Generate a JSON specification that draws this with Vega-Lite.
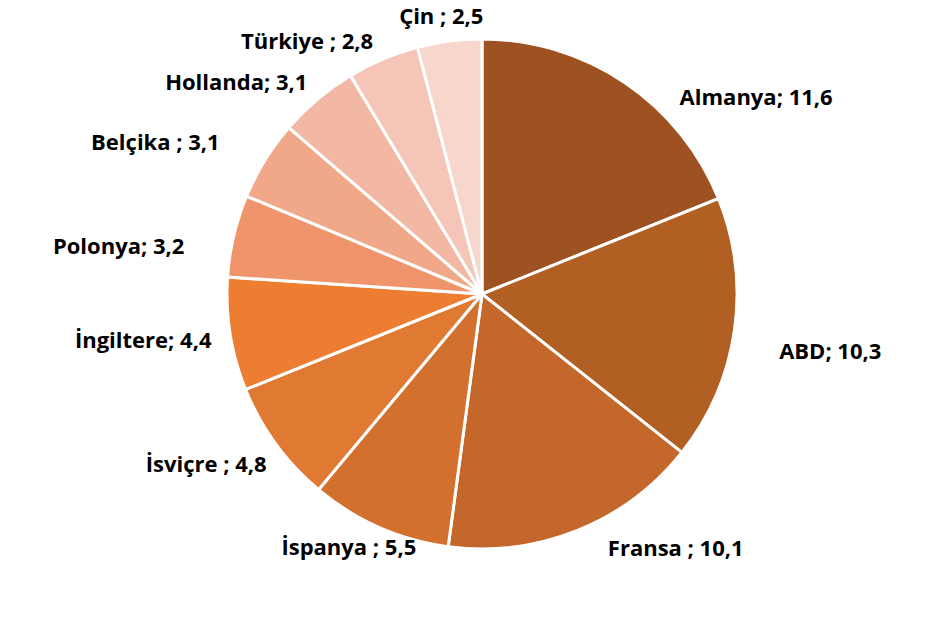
{
  "$schema": "https://vega.github.io/schema/vega-lite/v6.json",
  "width": 926,
  "height": 588,
  "autosize": {"type": "none"},
  "padding": {"left": 19, "top": 0, "right": 0, "bottom": 33},
  "background": "white",
  "view": {"stroke": null},
  "config": {"text": {"font": "Open Sans", "fontWeight": "bold", "fontSize": 22, "fill": "black", "baseline": "middle", "radius": 280}},
  "data": {
    "values": [
      {"country": "Almanya", "value": 11.6, "label": "Almanya; 11,6"},
      {"country": "ABD", "value": 10.3, "label": "ABD; 10,3"},
      {"country": "Fransa", "value": 10.1, "label": "Fransa ; 10,1"},
      {"country": "İspanya", "value": 5.5, "label": "İspanya ; 5,5"},
      {"country": "İsviçre", "value": 4.8, "label": "İsviçre ; 4,8"},
      {"country": "İngiltere", "value": 4.4, "label": "İngiltere; 4,4"},
      {"country": "Polonya", "value": 3.2, "label": "Polonya; 3,2"},
      {"country": "Belçika", "value": 3.1, "label": "Belçika ; 3,1"},
      {"country": "Hollanda", "value": 3.1, "label": "Hollanda; 3,1"},
      {"country": "Türkiye", "value": 2.8, "label": "Türkiye ; 2,8"},
      {"country": "Çin", "value": 2.5, "label": "Çin ; 2,5"}
    ]
  },
  "transform": [{"window": [{"op": "row_number", "as": "idx"}]}],
  "encoding": {
    "theta": {"field": "value", "type": "quantitative", "stack": true},
    "order": {"field": "idx", "type": "quantitative"}
  },
  "layer": [
    {
      "mark": {"type": "arc", "outerRadius": 255, "stroke": "white", "strokeWidth": 3},
      "encoding": {
        "color": {
          "field": "country",
          "type": "nominal",
          "legend": null,
          "scale": {
            "domain": ["Almanya", "ABD", "Fransa", "İspanya", "İsviçre", "İngiltere", "Polonya", "Belçika", "Hollanda", "Türkiye", "Çin"],
            "range": ["#9E5121", "#B25F23", "#C4672A", "#D3702D", "#E07931", "#ED7D31", "#F0956B", "#F1A889", "#F3B8A3", "#F5C6B7", "#F7D6CB"]
          }
        }
      }
    },
    {
      "mark": {"type": "text", "align": "right", "dx": 6, "dy": 3},
      "encoding": {
        "detail": {"field": "country", "type": "nominal"},
        "text": {"condition": {"test": "indexof(['Hollanda','İngiltere'], datum.country) >= 0", "field": "label"}, "value": ""}
      }
    },
    {
      "mark": {"type": "text", "align": "right", "dx": 0, "dy": 6},
      "encoding": {
        "detail": {"field": "country", "type": "nominal"},
        "text": {"condition": {"test": "datum.country == 'Türkiye'", "field": "label"}, "value": ""}
      }
    },
    {
      "mark": {"type": "text", "align": "right", "dx": 11, "dy": 6},
      "encoding": {
        "detail": {"field": "country", "type": "nominal"},
        "text": {"condition": {"test": "datum.country == 'İsviçre'", "field": "label"}, "value": ""}
      }
    },
    {
      "mark": {"type": "text", "align": "right", "dx": -24, "dy": -4},
      "encoding": {
        "detail": {"field": "country", "type": "nominal"},
        "text": {"condition": {"test": "datum.country == 'Belçika'", "field": "label"}, "value": ""}
      }
    },
    {
      "mark": {"type": "text", "align": "right", "dx": -25, "dy": 17},
      "encoding": {
        "detail": {"field": "country", "type": "nominal"},
        "text": {"condition": {"test": "datum.country == 'Polonya'", "field": "label"}, "value": ""}
      }
    },
    {
      "mark": {"type": "text", "align": "right", "dx": 47, "dy": -2},
      "encoding": {
        "detail": {"field": "country", "type": "nominal"},
        "text": {"condition": {"test": "datum.country == 'İspanya'", "field": "label"}, "value": ""}
      }
    },
    {
      "mark": {"type": "text", "align": "left", "dx": 41, "dy": 36},
      "encoding": {
        "detail": {"field": "country", "type": "nominal"},
        "text": {"condition": {"test": "datum.country == 'Almanya'", "field": "label"}, "value": ""}
      }
    },
    {
      "mark": {"type": "text", "align": "left", "dx": 20, "dy": 18},
      "encoding": {
        "detail": {"field": "country", "type": "nominal"},
        "text": {"condition": {"test": "datum.country == 'ABD'", "field": "label"}, "value": ""}
      }
    },
    {
      "mark": {"type": "text", "align": "left", "dx": 21, "dy": -5},
      "encoding": {
        "detail": {"field": "country", "type": "nominal"},
        "text": {"condition": {"test": "datum.country == 'Fransa'", "field": "label"}, "value": ""}
      }
    },
    {
      "mark": {"type": "text", "align": "center", "dx": -5, "dy": 1},
      "encoding": {
        "detail": {"field": "country", "type": "nominal"},
        "text": {"condition": {"test": "datum.country == 'Çin'", "field": "label"}, "value": ""}
      }
    }
  ]
}
